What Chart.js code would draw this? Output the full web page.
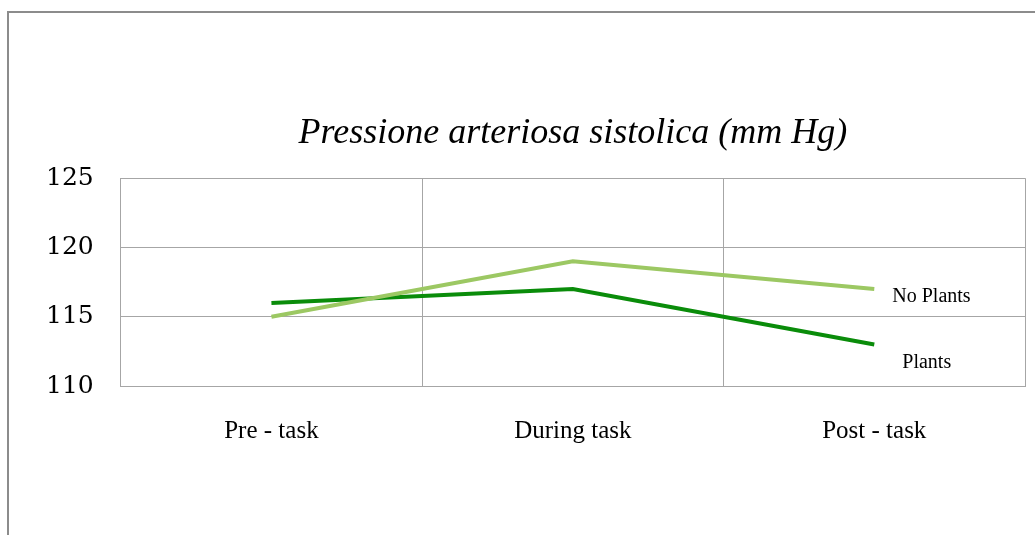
<!DOCTYPE html>
<html>
<head>
<meta charset="utf-8">
<script src="https://cdn.jsdelivr.net/npm/chart.js@4"></script>
<style>
    body { margin: 0; background: #fff; overflow: hidden; }
    #frame {
        position: absolute; left: 7px; top: 11px; width: 1100px; height: 600px;
        border-top: 2px solid #8c8c8c; border-left: 2px solid #8c8c8c;
    }
    #wrap { position: absolute; left: 0; top: 0; width: 1035px; height: 535px; }
</style>
</head>
<body>
<div id="frame"></div>
<div id="wrap"><canvas id="bpChart" width="1035" height="535"></canvas></div>
<script>
const phases = ['Pre - task', 'During task', 'Post - task'];
const plants = [116, 117, 113];
const noPlants = [115, 119, 117];
const yTicks = [110, 115, 120, 125];

// writes the series name beside the last point of each line
const endLabels = {
    id: 'endLabels',
    afterDatasetsDraw(chart) {
        const ctx = chart.ctx;
        ctx.save();
        ctx.font = '20px "Liberation Serif"';
        ctx.fillStyle = '#000';
        ctx.textBaseline = 'middle';
        chart.data.datasets.forEach((ds, i) => {
            const pts = chart.getDatasetMeta(i).data;
            const last = pts[pts.length - 1];
            ctx.fillText(ds.label, last.x + ds.tagDx, last.y + ds.tagDy);
        });
        ctx.restore();
    }
};

function loadChart() {
    const ctx = document.getElementById('bpChart').getContext('2d');
    new Chart(ctx, {
        type: 'line',
        data: {
            labels: phases,
            datasets: [{
                label: 'No Plants',
                data: noPlants,
                borderColor: '#9cc863',
                borderWidth: 4,
                pointRadius: 0,
                tension: 0,
                tagDx: 18, tagDy: 8
            }, {
                label: 'Plants',
                data: plants,
                borderColor: '#0a8c0a',
                borderWidth: 4,
                pointRadius: 0,
                tension: 0,
                tagDx: 28, tagDy: 18
            }]
        },
        options: {
            responsive: false,
            animation: false,
            layout: { padding: { left: 19, right: 10, top: 0, bottom: 59 } },
            plugins: {
                legend: { display: false },
                tooltip: { enabled: false },
                title: {
                    display: true,
                    text: 'Pressione arteriosa sistolica (mm Hg)',
                    fullSize: false,
                    color: '#000',
                    font: { family: '"Liberation Serif"', size: 36, style: 'italic', weight: 'normal' },
                    padding: { top: 112, bottom: 23 }
                }
            },
            scales: {
                x: {
                    offset: true,
                    grid: { offset: true, color: '#a6a6a6', drawTicks: false },
                    border: { color: '#a6a6a6' },
                    ticks: {
                        color: '#000', padding: 30,
                        font: { family: '"Liberation Serif"', size: 25 }
                    }
                },
                y: {
                    min: yTicks[0],
                    max: yTicks[yTicks.length - 1],
                    afterBuildTicks: scale => { scale.ticks = yTicks.map(v => ({ value: v })); },
                    grid: { color: '#a6a6a6', drawTicks: false },
                    border: { color: '#a6a6a6' },
                    ticks: {
                        color: '#000', padding: 27,
                        font: { family: '"DejaVu Serif"', size: 25 }
                    }
                }
            }
        },
        plugins: [endLabels]
    });
}

window.onload = loadChart;
</script>
</body>
</html>
